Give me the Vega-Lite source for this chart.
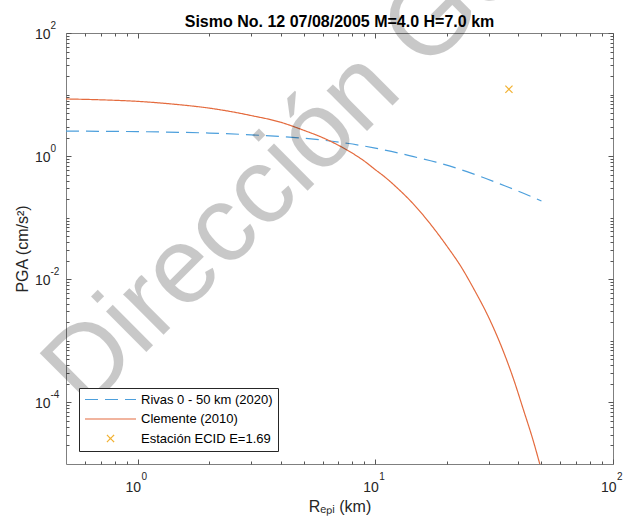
{
  "$schema": "https://vega.github.io/schema/vega-lite/v6.json",
  "autosize": {"type": "none"},
  "padding": {"left": 66, "top": 33, "right": 15, "bottom": 54},
  "width": 547,
  "height": 431,
  "background": "white",
  "config": {
    "view": {"stroke": "#7f7f7f", "strokeWidth": 1},
    "axis": {"grid": false, "domain": false, "labelFont": "Liberation Sans", "labelColor": "#262626", "titleFont": "Liberation Sans", "titleColor": "#262626", "tickColor": "#555555", "tickWidth": 1, "labelFlush": false, "labelOverlap": false, "labelBound": false},
    "legend": {"orient": "bottom-left", "offset": 13, "padding": 5, "fillColor": "white", "strokeColor": "#262626",
      "symbolSize": 2601, "symbolStrokeWidth": 1.2, "clipHeight": 13, "rowPadding": 5.5, "labelOffset": 4,
      "labelFont": "Liberation Sans", "labelFontSize": 13, "labelColor": "#000000", "labelLimit": 400}
  },
  "datasets": {
    "curves": [
      {"serie": "Rivas 0 - 50 km (2020)", "R": 0.5, "PGA": 2.55},
      {"serie": "Rivas 0 - 50 km (2020)", "R": 0.7, "PGA": 2.53},
      {"serie": "Rivas 0 - 50 km (2020)", "R": 1.0, "PGA": 2.50},
      {"serie": "Rivas 0 - 50 km (2020)", "R": 1.5, "PGA": 2.44},
      {"serie": "Rivas 0 - 50 km (2020)", "R": 2.0, "PGA": 2.37},
      {"serie": "Rivas 0 - 50 km (2020)", "R": 3.0, "PGA": 2.22},
      {"serie": "Rivas 0 - 50 km (2020)", "R": 4.0, "PGA": 2.08},
      {"serie": "Rivas 0 - 50 km (2020)", "R": 5.0, "PGA": 1.95},
      {"serie": "Rivas 0 - 50 km (2020)", "R": 6.0, "PGA": 1.82},
      {"serie": "Rivas 0 - 50 km (2020)", "R": 7.6, "PGA": 1.62},
      {"serie": "Rivas 0 - 50 km (2020)", "R": 10, "PGA": 1.35},
      {"serie": "Rivas 0 - 50 km (2020)", "R": 12.7, "PGA": 1.11},
      {"serie": "Rivas 0 - 50 km (2020)", "R": 14.5, "PGA": 0.98},
      {"serie": "Rivas 0 - 50 km (2020)", "R": 18, "PGA": 0.80},
      {"serie": "Rivas 0 - 50 km (2020)", "R": 24.3, "PGA": 0.56},
      {"serie": "Rivas 0 - 50 km (2020)", "R": 27.6, "PGA": 0.47},
      {"serie": "Rivas 0 - 50 km (2020)", "R": 35, "PGA": 0.33},
      {"serie": "Rivas 0 - 50 km (2020)", "R": 42, "PGA": 0.25},
      {"serie": "Rivas 0 - 50 km (2020)", "R": 50, "PGA": 0.187},
      {"serie": "Clemente (2010)", "R": 0.5, "PGA": 8.49},
      {"serie": "Clemente (2010)", "R": 0.7, "PGA": 8.22},
      {"serie": "Clemente (2010)", "R": 1.0, "PGA": 7.76},
      {"serie": "Clemente (2010)", "R": 1.5, "PGA": 6.84},
      {"serie": "Clemente (2010)", "R": 2.0, "PGA": 6.03},
      {"serie": "Clemente (2010)", "R": 2.5, "PGA": 5.25},
      {"serie": "Clemente (2010)", "R": 3.0, "PGA": 4.57},
      {"serie": "Clemente (2010)", "R": 4.0, "PGA": 3.55},
      {"serie": "Clemente (2010)", "R": 5.0, "PGA": 2.63},
      {"serie": "Clemente (2010)", "R": 6.0, "PGA": 2.0},
      {"serie": "Clemente (2010)", "R": 7.0, "PGA": 1.5},
      {"serie": "Clemente (2010)", "R": 8.0, "PGA": 1.12},
      {"serie": "Clemente (2010)", "R": 9.0, "PGA": 0.83},
      {"serie": "Clemente (2010)", "R": 10, "PGA": 0.603},
      {"serie": "Clemente (2010)", "R": 11, "PGA": 0.455},
      {"serie": "Clemente (2010)", "R": 12, "PGA": 0.339},
      {"serie": "Clemente (2010)", "R": 13, "PGA": 0.254},
      {"serie": "Clemente (2010)", "R": 14, "PGA": 0.191},
      {"serie": "Clemente (2010)", "R": 16, "PGA": 0.107},
      {"serie": "Clemente (2010)", "R": 18, "PGA": 0.0603},
      {"serie": "Clemente (2010)", "R": 20, "PGA": 0.0347},
      {"serie": "Clemente (2010)", "R": 23, "PGA": 0.0158},
      {"serie": "Clemente (2010)", "R": 26, "PGA": 0.00692},
      {"serie": "Clemente (2010)", "R": 30, "PGA": 0.0024},
      {"serie": "Clemente (2010)", "R": 34, "PGA": 0.000794},
      {"serie": "Clemente (2010)", "R": 38, "PGA": 0.000251},
      {"serie": "Clemente (2010)", "R": 42, "PGA": 0.0000759},
      {"serie": "Clemente (2010)", "R": 46, "PGA": 0.0000251},
      {"serie": "Clemente (2010)", "R": 50, "PGA": 0.00000794}
    ],
    "station": [
      {"serie": "Estación ECID E=1.69", "R": 36.5, "PGA": 12.2}
    ]
  },
  "layer": [
    {
      "data": {"name": "curves"},
      "transform": [{"filter": "datum.serie == 'Rivas 0 - 50 km (2020)'"}],
      "mark": {"type": "line", "strokeWidth": 1.2, "clip": true, "interpolate": "monotone"},
      "encoding": {
        "x": {"field": "R", "type": "quantitative", "scale": {"type": "log", "domain": [0.5, 100], "nice": false},
          "axis": {"orient": "bottom", "values": [1, 10, 100], "ticks": false, "labelExpr": "'10'", "labelAlign": "right", "labelOffset": 3, "labelPadding": 27, "labelBaseline": "alphabetic", "labelFontSize": 14,
            "title": "Rₑₚᵢ (km)", "titleFontSize": 16, "titleFontWeight": "normal", "titleX": 273.5, "titleY": 47, "titleBaseline": "alphabetic", "titleAlign": "center", "titleAngle": 0}},
        "y": {"field": "PGA", "type": "quantitative", "scale": {"type": "log", "domain": [0.00001, 100], "nice": false},
          "axis": {"orient": "left", "values": [100, 1, 0.01, 0.0001], "ticks": false, "labelExpr": "'10'", "labelAlign": "right", "labelBaseline": "middle", "labelPadding": 16, "labelOffset": 1, "labelFontSize": 14,
            "title": "PGA (cm/s²)", "titleFontSize": 16, "titleFontWeight": "normal", "titleX": -44, "titleY": 215.5, "titleAngle": -90, "titleBaseline": "middle", "titleAlign": "center"}},
        "color": {"field": "serie", "type": "nominal",
          "scale": {"domain": ["Rivas 0 - 50 km (2020)", "Clemente (2010)", "Estación ECID E=1.69"], "range": ["#4C9FDC", "#E46B3E", "#F2B233"]},
          "legend": {"title": null}},
        "strokeDash": {"field": "serie", "type": "nominal",
          "scale": {"domain": ["Rivas 0 - 50 km (2020)", "Clemente (2010)", "Estación ECID E=1.69"], "range": [[13, 7], [1, 0], [1, 0]]},
          "legend": {"title": null}}
      }
    },
    {
      "data": {"name": "curves"},
      "transform": [{"filter": "datum.serie == 'Clemente (2010)'"}],
      "mark": {"type": "line", "strokeWidth": 1.2, "clip": true, "interpolate": "monotone"},
      "encoding": {
        "x": {"field": "R", "type": "quantitative", "scale": {"type": "log", "domain": [0.5, 100], "nice": false},
          "axis": {"orient": "bottom", "values": [1, 10, 100], "ticks": false, "labelExpr": "datum.value < 5 ? '0' : datum.value < 50 ? '1' : '2'", "labelAlign": "left", "labelOffset": 3.5, "labelPadding": 15, "labelBaseline": "alphabetic", "labelFontSize": 10, "title": null}},
        "y": {"field": "PGA", "type": "quantitative", "scale": {"type": "log", "domain": [0.00001, 100], "nice": false},
          "axis": {"orient": "left", "values": [100, 1, 0.01, 0.0001], "ticks": false, "labelExpr": "datum.value > 50 ? '2' : datum.value > 0.5 ? '0' : datum.value > 0.005 ? '-2' : '-4'", "labelAlign": "left", "labelBaseline": "middle", "labelPadding": 16, "labelOffset": -8, "labelFontSize": 10, "title": null}},
        "color": {"field": "serie", "type": "nominal",
          "scale": {"domain": ["Rivas 0 - 50 km (2020)", "Clemente (2010)", "Estación ECID E=1.69"], "range": ["#4C9FDC", "#E46B3E", "#F2B233"]},
          "legend": {"title": null}},
        "strokeDash": {"field": "serie", "type": "nominal",
          "scale": {"domain": ["Rivas 0 - 50 km (2020)", "Clemente (2010)", "Estación ECID E=1.69"], "range": [[13, 7], [1, 0], [1, 0]]},
          "legend": {"title": null}}
      }
    },
    {
      "data": {"name": "station"},
      "mark": {"type": "point", "filled": false, "size": 2601, "strokeWidth": 1.2, "opacity": 1},
      "encoding": {
        "x": {"field": "R", "type": "quantitative", "scale": {"type": "log", "domain": [0.5, 100], "nice": false},
          "axis": {"orient": "bottom", "values": [1, 10, 100], "labels": false, "ticks": true, "tickSize": 5, "offset": -5, "title": null}},
        "y": {"field": "PGA", "type": "quantitative", "scale": {"type": "log", "domain": [0.00001, 100], "nice": false},
          "axis": {"orient": "left", "values": [100, 1, 0.01, 0.0001], "labels": false, "ticks": true, "tickSize": 5, "offset": -5, "title": null}},
        "color": {"field": "serie", "type": "nominal",
          "scale": {"domain": ["Rivas 0 - 50 km (2020)", "Clemente (2010)", "Estación ECID E=1.69"], "range": ["#4C9FDC", "#E46B3E", "#F2B233"]},
          "legend": {"title": null}},
        "shape": {"field": "serie", "type": "nominal",
          "scale": {"domain": ["Rivas 0 - 50 km (2020)", "Clemente (2010)", "Estación ECID E=1.69"], "range": ["stroke", "stroke", "M-0.14,-0.14L0.14,0.14M-0.14,0.14L0.14,-0.14"]},
          "legend": {"title": null}}
      }
    },
    {
      "data": {"name": "station"},
      "mark": {"type": "point", "opacity": 0},
      "encoding": {
        "x": {"field": "R", "type": "quantitative", "scale": {"type": "log", "domain": [0.5, 100], "nice": false},
          "axis": {"orient": "bottom", "values": [0.6, 0.7, 0.8, 0.9, 2, 3, 4, 5, 6, 7, 8, 9, 20, 30, 40, 50, 60, 70, 80, 90], "labels": false, "ticks": true, "tickSize": 3, "offset": -3, "title": null}},
        "y": {"field": "PGA", "type": "quantitative", "scale": {"type": "log", "domain": [0.00001, 100], "nice": false},
          "axis": {"orient": "left", "values": [0.00002, 0.00003, 0.00004, 0.00005, 0.00006, 0.00007, 0.00008, 0.00009, 0.0002, 0.0003, 0.0004, 0.0005, 0.0006, 0.0007, 0.0008, 0.0009, 0.001, 0.002, 0.003, 0.004, 0.005, 0.006, 0.007, 0.008, 0.009, 0.02, 0.03, 0.04, 0.05, 0.06, 0.07, 0.08, 0.09, 0.1, 0.2, 0.3, 0.4, 0.5, 0.6, 0.7, 0.8, 0.9, 2, 3, 4, 5, 6, 7, 8, 9, 10, 20, 30, 40, 50, 60, 70, 80, 90], "labels": false, "ticks": true, "tickSize": 3, "offset": -3, "title": null}}
      }
    },
    {
      "data": {"name": "station"},
      "mark": {"type": "point", "opacity": 0},
      "encoding": {
        "x": {"field": "R", "type": "quantitative", "scale": {"type": "log", "domain": [0.5, 100], "nice": false},
          "axis": {"orient": "top", "values": [1, 10, 100], "labels": false, "ticks": true, "tickSize": 5, "offset": -5, "title": null}},
        "y": {"field": "PGA", "type": "quantitative", "scale": {"type": "log", "domain": [0.00001, 100], "nice": false},
          "axis": {"orient": "right", "values": [100, 1, 0.01, 0.0001], "labels": false, "ticks": true, "tickSize": 5, "offset": -5, "title": null}}
      }
    },
    {
      "data": {"name": "station"},
      "mark": {"type": "point", "opacity": 0},
      "encoding": {
        "x": {"field": "R", "type": "quantitative", "scale": {"type": "log", "domain": [0.5, 100], "nice": false},
          "axis": {"orient": "top", "values": [0.6, 0.7, 0.8, 0.9, 2, 3, 4, 5, 6, 7, 8, 9, 20, 30, 40, 50, 60, 70, 80, 90], "labels": false, "ticks": true, "tickSize": 3, "offset": -3, "title": null}},
        "y": {"field": "PGA", "type": "quantitative", "scale": {"type": "log", "domain": [0.00001, 100], "nice": false},
          "axis": {"orient": "right", "values": [0.00002, 0.00003, 0.00004, 0.00005, 0.00006, 0.00007, 0.00008, 0.00009, 0.0002, 0.0003, 0.0004, 0.0005, 0.0006, 0.0007, 0.0008, 0.0009, 0.001, 0.002, 0.003, 0.004, 0.005, 0.006, 0.007, 0.008, 0.009, 0.02, 0.03, 0.04, 0.05, 0.06, 0.07, 0.08, 0.09, 0.1, 0.2, 0.3, 0.4, 0.5, 0.6, 0.7, 0.8, 0.9, 2, 3, 4, 5, 6, 7, 8, 9, 10, 20, 30, 40, 50, 60, 70, 80, 90], "labels": false, "ticks": true, "tickSize": 3, "offset": -3, "title": null}}
      }
    },
    {
      "data": {"values": [{"titulo": "Sismo No. 12 07/08/2005 M=4.0 H=7.0 km"}]},
      "mark": {"type": "text", "align": "center", "baseline": "alphabetic", "font": "Liberation Sans", "fontSize": 16, "fontWeight": "bold", "color": "#000000"},
      "encoding": {
        "x": {"datum": 7.07, "type": "quantitative", "axis": null},
        "y": {"datum": 127.5, "type": "quantitative", "axis": null},
        "text": {"field": "titulo"}
      }
    },
    {
      "data": {"values": [{"marca": "Dirección General"}]},
      "mark": {"type": "text", "angle": -45, "align": "left", "baseline": "alphabetic", "font": "Liberation Sans", "fontSize": 108, "color": "#000000", "opacity": 0.21},
      "encoding": {
        "x": {"datum": 0.607, "type": "quantitative", "axis": null},
        "y": {"datum": 0.0000698, "type": "quantitative", "axis": null},
        "text": {"field": "marca"}
      }
    }
  ],
  "resolve": {"scale": {"x": "shared", "y": "shared", "color": "shared"}, "axis": {"x": "independent", "y": "independent"}}
}
